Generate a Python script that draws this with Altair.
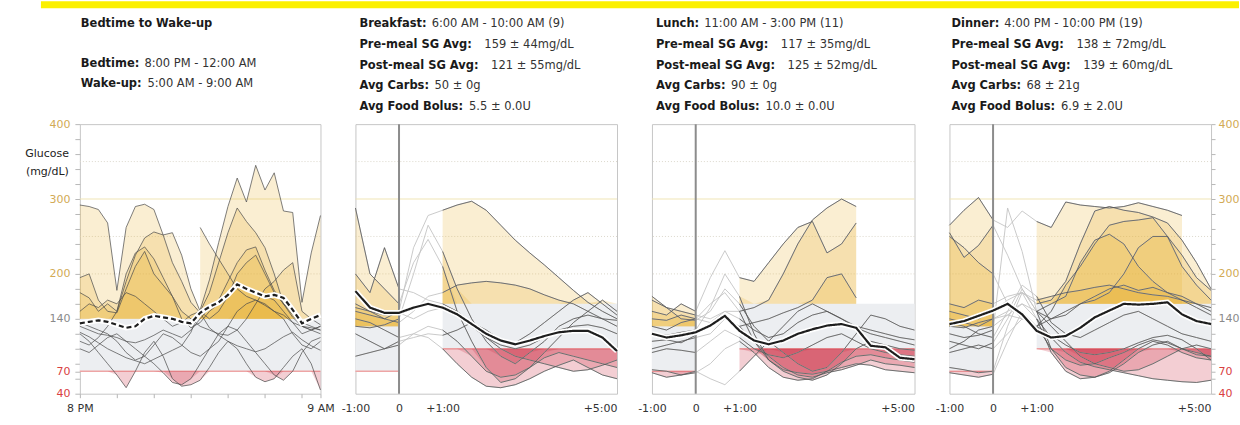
import altair as alt
import pandas as pd

FONT = "DejaVu Sans"

# ---------------------------------------------------------------------------
# Time grids (minutes). Overnight panel: minutes after 8 PM.
# Meal panels: minutes relative to the meal.
# ---------------------------------------------------------------------------
night_minutes = [0, 30, 60, 90, 120, 150, 180, 210, 240, 270, 300, 330, 360,
                 390, 420, 450, 480, 510, 540, 570, 600, 630, 660, 690, 720,
                 750, 780]
meal_minutes = [-60, -40, -20, 0, 20, 40, 60, 80, 100, 120, 140, 160, 180,
                200, 220, 240, 260, 280, 300]

# ---------------------------------------------------------------------------
# Sensor glucose traces (mg/dL)
# ---------------------------------------------------------------------------
night_traces = [
    [292, 290, 286, 268, 178, 262, 290, 293, 286, 252, 215, 190, 162, 148, 128, 118, 110, 104, 100, 96, 100, 108, 116, 122, 112, 104, 98],
    [122, 116, 108, 100, 94, 88, 84, 80, 86, 92, 98, 104, 122, 152, 192, 242, 290, 328, 296, 345, 312, 335, 284, 282, 162, 228, 278],
    [150, 160, 155, 165, 160, 175, 170, 160, 150, 140, 130, 135, 145, 150, 175, 215, 255, 288, 270, 255, 235, 200, 160, 145, 130, 125, 130],
    [110, 105, 115, 130, 150, 190, 225, 248, 256, 252, 255, 225, 180, 150, 140, 150, 170, 200, 215, 225, 200, 175, 160, 150, 135, 130, 125],
    [175, 168, 150, 160, 150, 200, 228, 236, 220, 195, 170, 150, 140, 130, 125, 120, 118, 125, 140, 160, 180, 190, 205, 215, 150, 140, 132],
    [195, 200, 165, 150, 148, 180, 210, 230, 200, 185, 170, 140, 128, 135, 150, 160, 175, 185, 180, 178, 170, 165, 150, 135, 120, 125, 130],
    [None, None, None, None, None, None, None, None, None, None, None, None, None, 262, 240, 220, 200, 180, 170, 165, 160, 150, 145, 135, 130, 128, 125],
    [130, 125, 120, 118, 115, 110, 108, 112, 118, 125, 120, 115, 125, 140, 155, 165, 190, 215, 232, 236, 205, 178, 160, 142, 130, 125, 120],
    [120, 110, 95, 80, 65, 48, 70, 95, 110, 90, 60, 50, 52, 58, 75, 95, 110, 100, 80, 62, 56, 60, 75, 90, 100, 80, 45],
    [100, 95, 105, 115, 120, 110, 100, 90, 80, 68, 55, 52, 60, 80, 100, 120, 130, 125, 110, 95, 80, 65, 58, 70, 95, 110, 115],
    [135, 130, 125, 120, 110, 95, 85, 90, 105, 120, 115, 105, 95, 90, 100, 110, 130, 150, 160, 165, 158, 150, 140, 120, 105, 100, 110],
]
night_mean = [134, 136, 138, 136, 132, 128, 130, 140, 144, 142, 140, 136, 134, 148, 156, 162, 172, 186, 180, 175, 170, 172, 168, 152, 134, 140, 145]

breakfast_traces = [
    [150, 145, 140, 150, 235, 278, 285, 292, 297, 285, 265, 245, 228, 212, 195, 178, 162, 150, 140],
    [160, 150, 140, 135, 150, 170, 175, 185, 188, 190, 188, 185, 180, 172, 165, 160, 150, 140, 130],
    [288, 200, 180, 160, 215, 246, 210, 150, 110, 75, 55, 60, 75, 95, 115, 135, 150, 165, 150],
    [200, 175, 235, 180, 175, 165, 160, 150, 135, 115, 100, 90, 85, 80, 75, 70, 72, 78, 85],
    [120, 110, 100, 105, 120, 115, 100, 80, 62, 50, 48, 52, 60, 70, 78, 85, 75, 65, 60],
    [140, 135, 125, 115, 120, 130, 125, 110, 90, 70, 62, 65, 75, 88, 95, 90, 85, 80, 75],
    [90, 95, 100, 110, 115, 120, 118, 125, 135, 125, 112, 108, 120, 135, 150, 165, 175, 160, 145],
    [155, 150, 145, 148, 140, 150, 155, 145, 130, 115, 105, 100, 105, 115, 125, 130, 132, 128, 120],
    [130, 128, 132, 140, 200, 265, 230, 180, 140, 110, 90, 80, 95, 110, 130, 140, 145, 140, 138],
]
breakfast_mean = [177, 155, 148, 148, 155, 160, 155, 146, 133, 120, 111, 106, 111, 117, 122, 124, 124, 115, 97]

lunch_traces = [
    [150, 145, 160, 150, 195, 231, 195, 190, 215, 240, 262, 270, 228, 240, 268, None, None, None, None],
    [165, 155, 150, 145, 140, 150, 150, 155, 165, 200, 240, 272, 288, 300, 290, None, None, None, None],
    [140, 138, 145, 140, 135, 140, 130, 135, 140, 148, 155, 165, 195, 200, 168, None, None, None, None],
    [170, 155, 140, 138, 150, 180, 160, 130, 110, 95, 80, 70, 75, 95, 120, 145, 140, 130, 125],
    [120, 118, 122, 125, 155, 200, 170, 120, 85, 70, 62, 58, 65, 80, 100, 110, 105, 100, 98],
    [100, 105, 110, 115, 120, 140, 130, 110, 90, 75, 65, 62, 68, 72, 78, 85, 80, 78, 75],
    [72, 70, 65, 68, 80, 100, 110, 95, 75, 62, 58, 60, 70, 82, 90, 92, 88, 85, 82],
    [68, 62, 65, 70, 60, 52, 70, 90, 110, 130, 150, 160, 150, 140, 130, 125, 120, 115, 112],
    [110, 112, 108, 118, 135, 150, 140, 125, 115, 120, 135, 145, 150, 140, 128, 120, 115, 110, 105],
    [130, 125, 135, 140, 160, 175, 150, 110, 85, 72, 68, 66, 70, 75, 80, 78, 72, 70, 68],
    [95, 100, 98, 95, 110, 125, 115, 100, 92, 88, 95, 105, 115, 120, 110, 100, 95, 92, 90],
]
lunch_mean = [120, 115, 118, 122, 131, 144, 124, 111, 106, 111, 120, 126, 131, 133, 128, 104, 102, 88, 86]

dinner_traces = [
    [265, 285, 302, 272, 262, 284, 270, 262, 296, 292, 290, 288, 290, 295, 290, 285, 278, None, None],
    [150, 145, 140, 150, 165, 175, 160, 165, 190, 240, 284, 290, 285, 282, 276, 268, 245, 215, 180],
    [140, 135, 130, 140, 150, 160, 150, 160, 170, 215, 245, 253, 240, 210, 190, 175, 165, 160, 150],
    [130, 128, 135, 140, 145, 140, 130, 140, 150, 160, 165, 175, 200, 235, 250, 250, 225, 195, 178],
    [250, 235, 215, 200, 160, 140, 130, 150, 185, 210, 240, 265, 270, 272, 275, 250, 210, 185, 165],
    [255, 222, 238, 265, 225, 180, 150, 140, 145, 160, 170, 180, 185, 178, 182, 175, 170, 160, 155],
    [160, 155, 165, 160, 170, 175, 165, 170, 175, 178, 182, 185, 180, 175, 172, 170, 165, 155, 145],
    [120, 115, 118, 125, 288, 230, 150, 130, 110, 90, 80, 75, 70, 72, 80, 90, 100, 105, 100],
    [110, 105, 100, 108, 140, 180, 150, 100, 75, 65, 62, 68, 80, 95, 105, 110, 100, 92, 90],
    [75, 72, 68, 70, 130, 175, 140, 95, 70, 60, 62, 70, 85, 100, 110, 105, 95, 88, 85],
    [68, 65, 62, 66, 110, 150, 130, 100, 85, 78, 80, 88, 95, 105, 112, 108, 100, 95, 90],
    [100, 110, 125, 130, 145, 160, 140, 115, 95, 82, 76, 72, 68, 64, 60, 58, 56, 55, 58],
    [135, 130, 120, 115, 150, 185, 170, 135, 120, 115, 125, 135, 145, 150, 140, 130, 120, 115, 110],
    [95, 100, 105, 100, 120, 140, 130, 118, 105, 95, 92, 95, 100, 108, 115, 118, 112, 100, 85],
]
dinner_mean = [133, 137, 144, 151, 160, 146, 124, 115, 117, 128, 142, 151, 160, 159, 160, 162, 146, 137, 133]

# ---------------------------------------------------------------------------
# Header text
# ---------------------------------------------------------------------------
night_title = "Bedtime to Wake-up"
night_rows = [("Bedtime:", "8:00 PM - 12:00 AM"), ("Wake-up:", "5:00 AM - 9:00 AM")]
breakfast_rows = [("Breakfast:", "6:00 AM - 10:00 AM (9)"),
                  ("Pre-meal SG Avg:", "159 ± 44mg/dL"),
                  ("Post-meal SG Avg:", "121 ± 55mg/dL"),
                  ("Avg Carbs:", "50 ± 0g"),
                  ("Avg Food Bolus:", "5.5 ± 0.0U")]
lunch_rows = [("Lunch:", "11:00 AM - 3:00 PM (11)"),
              ("Pre-meal SG Avg:", "117 ± 35mg/dL"),
              ("Post-meal SG Avg:", "125 ± 52mg/dL"),
              ("Avg Carbs:", "90 ± 0g"),
              ("Avg Food Bolus:", "10.0 ± 0.0U")]
dinner_rows = [("Dinner:", "4:00 PM - 10:00 PM (19)"),
               ("Pre-meal SG Avg:", "138 ± 72mg/dL"),
               ("Post-meal SG Avg:", "139 ± 60mg/dL"),
               ("Avg Carbs:", "68 ± 21g"),
               ("Avg Food Bolus:", "6.9 ± 2.0U")]

y_ticks = [40, 60, 70, 80, 100, 120, 140, 160, 180, 200, 220, 240, 260, 280,
           300, 320, 340, 360, 380, 400]
y_labelled = [40, 70, 140, 200, 300, 400]

# ---------------------------------------------------------------------------
# Styling
# ---------------------------------------------------------------------------
PLOT_H = 270
GOLD = "#e8b030"
RED = "#cc3346"
BAND = "#eceef1"
HEAD_SIZE = 11.5

# approximate DejaVu Sans Bold advance widths (per 1000 em)
BOLD_W = {" ": 348, ":": 400, "-": 415, "A": 774, "B": 762, "C": 734, "D": 830,
          "F": 683, "G": 821, "L": 637, "P": 733, "S": 720, "W": 1103,
          "a": 675, "b": 716, "c": 593, "d": 716, "e": 678, "f": 435, "g": 716,
          "h": 712, "i": 343, "k": 665, "l": 343, "m": 1042, "n": 712, "o": 687,
          "p": 716, "r": 493, "s": 595, "t": 478, "u": 712, "v": 652, "w": 924}


def bold_width(s):
    return sum(BOLD_W.get(ch, 650) for ch in s) * HEAD_SIZE / 1000.0


ONE = pd.DataFrame({"k": [0]})


def long_frame(times, traces, meal):
    rows = []
    for k, series in enumerate(traces):
        for t, v in zip(times, series):
            if v is None:
                continue
            if not meal:
                win, lo, hi = "night", 70, 140
            elif t <= 0:
                win, lo, hi = "pre", 70, 130
            elif t >= 60:
                win, lo, hi = "post", 100, 160
            else:
                win, lo, hi = "gap", None, None
            rows.append(dict(trace=k, t=t, sg=v, win=win, seg=f"{k}-{win}",
                             lo=lo, hi=hi,
                             top=(max(v, hi) if hi is not None else None),
                             bot=(min(v, lo) if lo is not None else None)))
    return pd.DataFrame(rows)


def text_layer(x, y, text, bold, size=HEAD_SIZE, align="left", color=None):
    return alt.Chart(ONE).mark_text(
        align=align, baseline="middle", font=FONT, fontSize=size,
        fontWeight="bold" if bold else "normal",
        color=color or ("#1a1a1a" if bold else "#333333"),
    ).encode(x=alt.value(x), y=alt.value(y), text=alt.value(text))


def header(rows, x0, ys):
    layers = []
    for (label, value), y in zip(rows, ys):
        gap = 12 if "SG" in label else 5
        layers.append(text_layer(x0, y, label, True))
        layers.append(text_layer(x0 + bold_width(label) + gap, y, value, False))
    return layers


def y_axis(orient, tick=5, pad=5):
    return alt.Axis(
        orient=orient, values=y_ticks, title=None,
        labelExpr=f"indexof({y_labelled}, datum.value) >= 0 ? datum.label : ''",
        tickSize=tick, tickColor="#b8b8b8", labelPadding=pad, labelFontSize=11,
        labelFlush=False, labelOverlap=False,
        labelColor={"condition": [{"test": "datum.value >= 200", "value": "#d2aa55"},
                                  {"test": "datum.value >= 100", "value": "#8a8a8a"}],
                    "value": "#d9413f"},
    )


night_x_axis = alt.Axis(
    values=[0, 120, 240, 360, 480, 600, 720, 780], title=None,
    labelExpr="datum.value == 0 ? '8 PM' : datum.value == 780 ? '9 AM' : ''",
    ticks=True, tickSize=4, tickColor="#b5b5b5", labelPadding=5,
    labelFlush=False, labelOverlap=False, labelFontSize=11,
)
meal_x_axis = alt.Axis(
    values=[-60, 0, 60, 300], title=None,
    labelExpr="datum.value == -60 ? '-1:00' : datum.value == 0 ? '0' : datum.value == 60 ? '+1:00' : '+5:00'",
    ticks=False, labelPadding=9, labelFlush=False, labelOverlap=False,
    labelFontSize=11,
    labelAlign={"condition": {"test": "datum.value == 300", "value": "right"},
                "value": "center"},
)


def build_panel(times, traces, mean, meal, width, y_ax, head_layers, extra=()):
    df = long_frame(times, traces, meal)
    win = df[df.win != "gap"]
    mdf = pd.DataFrame({"t": times, "sg": mean})
    xs = alt.Scale(domain=[-60, 300] if meal else [0, 780], nice=False, zero=False)
    ys = alt.Scale(domain=[40, 400], nice=False, zero=False)
    x_ax = meal_x_axis if meal else night_x_axis

    # every layer carries the same axis definition so that they merge cleanly
    def xq(f):
        return alt.X(f"{f}:Q", scale=xs, axis=x_ax, title=None)

    def yq(f):
        return alt.Y(f"{f}:Q", scale=ys, axis=y_ax, title=None, stack=None)

    if meal:
        bands = pd.DataFrame({"t0": [-60, 60], "t1": [0, 300], "lo": [70, 100], "hi": [130, 160]})
    else:
        bands = pd.DataFrame({"t0": [0], "t1": [780], "lo": [70], "hi": [140]})

    layers = [
        alt.Chart(pd.DataFrame({"sg": [200, 250, 350]})).mark_rule(
            color="#dcd8cc", strokeDash=[1, 2], strokeWidth=1).encode(y=yq("sg")),
        alt.Chart(pd.DataFrame({"sg": [300]})).mark_rule(
            color="#f0e5b5", strokeWidth=1).encode(y=yq("sg")),
        alt.Chart(bands).mark_rect(color=BAND).encode(
            x=xq("t0"), x2="t1", y=yq("lo"), y2="hi"),
        alt.Chart(bands).mark_rule(color="#eea5a5", strokeWidth=1.5).encode(
            x=xq("t0"), x2="t1", y=yq("lo")),
        alt.Chart(win).mark_area(color=GOLD, opacity=0.22, interpolate="linear").encode(
            x=xq("t"), y=yq("top"), y2="hi", detail="seg:N"),
        alt.Chart(win).mark_area(color=RED, opacity=0.24, interpolate="linear").encode(
            x=xq("t"), y=yq("bot"), y2="lo", detail="seg:N"),
    ]
    if meal:
        layers.append(alt.Chart(df).mark_line(color="#c4c4c4", strokeWidth=0.9).encode(
            x=xq("t"), y=yq("sg"), detail="trace:N"))
    layers.append(alt.Chart(win).mark_line(color="#4d4d4d", strokeWidth=0.9, opacity=0.8).encode(
        x=xq("t"), y=yq("sg"), detail="seg:N"))
    if meal:
        layers.append(alt.Chart(pd.DataFrame({"t": [0]})).mark_rule(
            color="#8c8c8c", strokeWidth=2).encode(x=xq("t")))
    # average trace with a white halo
    layers.append(alt.Chart(mdf).mark_line(color="white", strokeWidth=5.5).encode(
        x=xq("t"), y=yq("sg")))
    layers.append(alt.Chart(mdf).mark_line(
        color="#1e1e1e", strokeWidth=2.2,
        strokeDash=[1, 0] if meal else [5, 3]).encode(x=xq("t"), y=yq("sg")))
    layers.extend(head_layers)
    layers.extend(extra)
    return alt.layer(*layers).properties(width=width, height=PLOT_H)


meal_rows_y = [-100, -79, -58, -38, -17]

night_extra = [
    # canvas anchor and top banner
    alt.Chart(ONE).mark_rect(opacity=0).encode(
        x=alt.value(-79), x2=alt.value(-78), y=alt.value(-123), y2=alt.value(-122)),
    alt.Chart(ONE).mark_rect(color="#fbf000").encode(
        x=alt.value(-39), x2=alt.value(1161), y=alt.value(-123), y2=alt.value(-116)),
    text_layer(-11, 30, "Glucose", False, size=11, align="right", color="#222222"),
    text_layer(-11, 48, "(mg/dL)", False, size=11, align="right", color="#222222"),
]

p_night = build_panel(
    night_minutes, night_traces, night_mean, False, 241, y_axis("left"),
    [text_layer(1, -100, night_title, True)] + header(night_rows, 1, [-60, -40]),
    night_extra)
p_breakfast = build_panel(meal_minutes, breakfast_traces, breakfast_mean, True, 262,
                          None, header(breakfast_rows, 4, meal_rows_y))
p_lunch = build_panel(meal_minutes, lunch_traces, lunch_mean, True, 263,
                      None, header(lunch_rows, 4, meal_rows_y))
p_dinner = build_panel(meal_minutes, dinner_traces, dinner_mean, True, 262,
                       y_axis("right", tick=4, pad=3), header(dinner_rows, 2, meal_rows_y))

chart = alt.hconcat(p_night, p_breakfast, p_lunch, p_dinner, spacing=35, bounds="flush").properties(
    padding=0, background="white"
).configure_view(
    stroke="#c6c6c6", strokeWidth=1
).configure_axis(
    labelFont=FONT, labelColor="#333333", domain=False, grid=False
)

chart.save("out.html", embed_options={"renderer": "svg", "actions": False})
